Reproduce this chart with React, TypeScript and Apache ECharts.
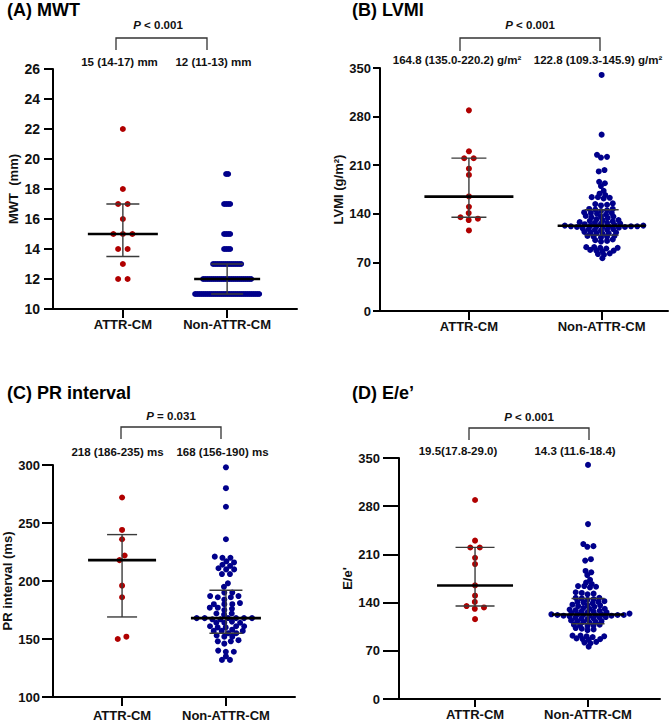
import React, { useEffect, useRef } from "react";
import * as echarts from "echarts";

const FONT = "'Liberation Sans', Arial, sans-serif";

const categories = ["ATTR-CM", "Non-ATTR-CM"];

// (A) MWT, mm
const mwtAttr = [22, 18, 17, 17, 16, 15, 15, 15, 14, 14, 13, 12, 12];
const mwtNon = [
  19, 19,
  17, 17, 17, 17,
  15, 15, 15, 15,
  14, 14, 14, 14,
  13, 13, 13, 13, 13, 13, 13, 13, 13, 13, 13, 13, 13, 13, 13,
  12, 12, 12, 12, 12, 12, 12, 12, 12, 12, 12, 12, 12, 12, 12, 12, 12, 12, 12, 12, 12, 12, 12, 12, 12,
  11, 11, 11, 11, 11, 11, 11, 11, 11, 11, 11, 11, 11, 11, 11, 11, 11, 11, 11, 11, 11, 11, 11, 11, 11, 11, 11, 11, 11, 11, 11, 11, 11,
];

// (B) LVMI, g/m2
const lvmiAttr = [289, 230, 220, 220, 205, 196, 165, 150, 141, 135, 133, 131, 116];
const lvmiNon = [
  340, 254, 225, 222, 221, 203, 201, 186, 184, 180, 173, 169, 167,
  164, 163, 162, 164, 155, 153, 154, 152, 147, 146, 145, 147, 144,
  141, 140, 142, 139, 141, 136, 135, 134, 136, 137, 131, 130, 129, 131, 132,
  127, 126, 127, 125, 126, 128,
  123, 122, 122, 121, 123, 122, 121, 123, 122, 120, 124, 122, 121,
  118, 117, 116, 118, 117, 119, 113, 112, 114, 112, 113, 111,
  108, 107, 106, 108, 107, 102, 101, 103, 100,
  92, 91, 90, 91, 92, 88, 87, 86, 87, 83, 82, 81, 76,
];

// (C) PR interval, ms
const prAttr = [272, 244, 236, 222, 218, 196, 186, 152, 150];
const prNon = [
  298, 280, 264, 236, 220, 220, 221, 217, 216, 213, 214, 210, 210, 211, 206, 206,
  198, 195, 190, 190, 187, 186, 187, 186, 184, 180, 180, 181, 180, 177, 176, 177, 175,
  172, 171, 172, 168, 168, 167, 168, 168, 167, 168, 168,
  164, 164, 165, 164, 161, 160, 161, 160, 161, 157, 157, 158, 157, 155, 155,
  152, 152, 153, 148, 149, 148, 146, 139, 139, 140, 135, 132, 132,
];

// (D) E/e'
const eeAttr = [289, 230, 220, 220, 205, 196, 165, 150, 141, 135, 133, 131, 116];
const eeNon = [
  340, 254, 225, 222, 221, 203, 201, 186, 184, 180, 173, 169, 167,
  164, 163, 162, 164, 155, 153, 154, 152, 147, 146, 145, 147, 144,
  141, 140, 142, 139, 141, 136, 135, 134, 136, 137, 131, 130, 129, 131, 132,
  127, 126, 127, 125, 126, 128,
  123, 122, 122, 121, 123, 122, 121, 123, 122, 120, 124, 122, 121,
  118, 117, 116, 118, 117, 119, 113, 112, 114, 112, 113, 111,
  108, 107, 106, 108, 107, 102, 101, 103, 100,
  92, 91, 90, 91, 92, 88, 87, 86, 87, 83, 82, 81, 76,
];

// median, lower bar, upper bar (as drawn) per group
const mwtBars = [[15, 13.5, 17], [12, 11, 13]];
const lvmiBars = [[164.8, 135.0, 220.2], [122.8, 109.3, 145.9]];
const prBars = [[218, 169, 240], [168, 155, 192]];
const eeBars = [[164.8, 135.0, 220.2], [122.8, 109.3, 145.9]];

const titles = ["(A) MWT", "(B) LVMI", "(C) PR interval", "(D) E/e\u2019"];
const yNames = ["MWT  (mm)", "LVMI (g/m\u00b2)", "PR interval (ms)", "E/e'"];
const pTexts = ["< 0.001", "< 0.001", "= 0.031", "< 0.001"];
const summaryLabels = [
  ["15 (14-17) mm", "12 (11-13) mm"],
  ["164.8 (135.0-220.2) g/m\u00b2", "122.8 (109.3-145.9) g/m\u00b2"],
  ["218 (186-235) ms", "168 (156-190) ms"],
  ["19.5(17.8-29.0)", "14.3 (11.6-18.4)"],
];
const yRanges = [
  { min: 10, max: 26, interval: 2 },
  { min: 0, max: 350, interval: 70 },
  { min: 100, max: 300, interval: 50 },
  { min: 0, max: 350, interval: 70 },
];

const groupsData = [
  [mwtAttr, mwtNon],
  [lvmiAttr, lvmiNon],
  [prAttr, prNon],
  [eeAttr, eeNon],
];
const barsData = [mwtBars, lvmiBars, prBars, eeBars];

// layout (pixels)
const panels = [
  {
    grid: { left: 53, top: 69, width: 244, height: 240 }, xMin: 0.33, xMax: 2.67,
    title: [7, 10], nameGap: 33, tickLen: 9, labelMargin: 13, labelSize: 14, xTick: 9, xMargin: 9,
    bracket: [116, 207, 38, 50], p: [158, 25], labels: [[119.5, 62], [213.5, 62]],
    sx: [9.5, 2], sy: [5.5, 5.5], medHalf: [35, 33], capHalf: [16.5, 16],
  },
  {
    grid: { left: 380, top: 68, width: 288, height: 243 }, xMin: 0.33, xMax: 2.5,
    title: [352, 10], nameGap: 28, tickLen: 7, labelMargin: 9, labelSize: 13, xTick: 9, xMargin: 9,
    bracket: [460, 600, 38, 51], p: [530, 25], labels: [[457, 60], [598, 60]],
    sx: [9.5, 6.2], sy: [5.5, 3.6], medHalf: [44.5, 44], capHalf: [17.5, 17],
  },
  {
    grid: { left: 53, top: 465, width: 242, height: 232 }, xMin: 0.335, xMax: 2.665,
    title: [7, 393], nameGap: 38, tickLen: 11, labelMargin: 13, labelSize: 13, xTick: 9, xMargin: 12,
    bracket: [121, 221, 427, 439], p: [171, 416], labels: [[117.5, 452], [222.5, 452]],
    sx: [9.5, 8], sy: [5.5, 4], medHalf: [34, 35], capHalf: [15, 16.5],
  },
  {
    grid: { left: 399, top: 458, width: 261, height: 241 }, xMin: 0.327, xMax: 2.637,
    title: [352, 393], nameGap: 43, tickLen: 16, labelMargin: 19, labelSize: 13, xTick: 8, xMargin: 9,
    bracket: [469, 589, 428, 440], p: [529, 417], labels: [[458, 451], [575, 451]],
    sx: [9.5, 6.2], sy: [5.5, 3.6], medHalf: [38, 36], capHalf: [19.5, 16.5],
  },
];

const dotColors = ["#b00000", "#00008b"];

// Beeswarm layout: pixel offsets for each value
function swarm(values: number[], k: number, sx: number, sy: number): number[] {
  const order = values.map((_, i) => i).sort((a, b) => values[a] - values[b] || a - b);
  const placed: { x: number; y: number; i: number }[] = [];
  const off: number[] = values.map(() => 0);
  for (const i of order) {
    const y = values[i] * k;
    const near = placed.filter((p) => Math.abs(p.y - y) < sy - 1e-9);
    const cands = [0];
    near.forEach((p) => {
      const d = (p.y - y) / sy;
      const w = sx * Math.sqrt(Math.max(0, 1 - d * d));
      cands.push(p.x + w, p.x - w);
    });
    cands.sort((a, b) => Math.abs(a) - Math.abs(b) || b - a);
    let best = cands[cands.length - 1];
    for (const c of cands) {
      if (near.every((p) => ((p.x - c) / sx) ** 2 + ((p.y - y) / sy) ** 2 >= 0.999)) {
        best = c;
        break;
      }
    }
    placed.push({ x: best, y, i });
    off[i] = best;
  }
  // center each connected cluster
  let cluster: number[] = [];
  const flush = () => {
    if (cluster.length > 1) {
      const mean = cluster.reduce((s, j) => s + off[j], 0) / cluster.length;
      cluster.forEach((j) => (off[j] -= mean));
    }
    cluster = [];
  };
  for (let n = 0; n < order.length; n++) {
    const i = order[n];
    if (n > 0 && (values[i] - values[order[n - 1]]) * k >= sy) flush();
    cluster.push(i);
  }
  flush();
  return off;
}

export default function App() {
  const ref = useRef<HTMLDivElement>(null);
  useEffect(() => {
    if (!ref.current) return;
    const chart = echarts.init(ref.current, undefined, { renderer: "svg" });

    const grids: any[] = [];
    const xAxes: any[] = [];
    const yAxes: any[] = [];
    const series: any[] = [];
    const graphics: any[] = [];

    panels.forEach((p, i) => {
      const yr = yRanges[i];
      grids.push({ ...p.grid, containLabel: false });
      const pxPerX = p.grid.width / (p.xMax - p.xMin);
      const k = p.grid.height / (yr.max - yr.min);
      xAxes.push({
        type: "value", gridIndex: i, min: p.xMin, max: p.xMax,
        splitLine: { show: false },
        axisLine: { show: true, onZero: false, lineStyle: { color: "#000", width: 2 } },
        axisTick: { show: true, customValues: [1, 2], length: p.xTick, lineStyle: { color: "#000", width: 2 } },
        axisLabel: {
          show: true, customValues: [1, 2], margin: p.xMargin,
          formatter: (v: number) => categories[Math.round(v) - 1] ?? "",
          fontWeight: "bold", fontSize: 13, color: "#111", fontFamily: FONT,
        },
      });
      yAxes.push({
        type: "value", gridIndex: i, min: yr.min, max: yr.max, interval: yr.interval,
        splitLine: { show: false },
        axisLine: { show: true, onZero: false, lineStyle: { color: "#000", width: 2 } },
        axisTick: { show: true, length: p.tickLen, lineStyle: { color: "#000", width: 2 } },
        axisLabel: { margin: p.labelMargin, fontWeight: "bold", fontSize: p.labelSize, color: "#111", fontFamily: FONT },
        name: yNames[i], nameLocation: "middle", nameGap: p.nameGap,
        nameTextStyle: { fontWeight: "bold", fontSize: 13, color: "#111", fontFamily: FONT },
      });

      groupsData[i].forEach((vals, g) => {
        const off = swarm(vals, k, p.sx[g], p.sy[g]);
        series.push({
          type: "scatter", xAxisIndex: i, yAxisIndex: i, silent: true, z: 2,
          symbolSize: 6, itemStyle: { color: dotColors[g], opacity: 1 },
          data: vals.map((v, j) => [g + 1 + off[j] / pxPerX, v]),
        });
      });

      const med = p.medHalf;
      const cap = p.capHalf;
      series.push({
        type: "custom", xAxisIndex: i, yAxisIndex: i, silent: true, z: 5,
        data: barsData[i].map((b, g) => [g + 1, b[0], b[1], b[2]]),
        renderItem: (params: any, api: any) => {
          const x = api.value(0);
          const pm = api.coord([x, api.value(1)]);
          const pl = api.coord([x, api.value(2)]);
          const ph = api.coord([x, api.value(3)]);
          const mh = med[params.dataIndex];
          const ch = cap[params.dataIndex];
          const thin = { stroke: "#3a3a3a", lineWidth: 1.4 };
          return {
            type: "group",
            children: [
              { type: "line", shape: { x1: pl[0], y1: pl[1], x2: ph[0], y2: ph[1] }, style: thin },
              { type: "line", shape: { x1: pl[0] - ch, y1: pl[1], x2: pl[0] + ch, y2: pl[1] }, style: thin },
              { type: "line", shape: { x1: ph[0] - ch, y1: ph[1], x2: ph[0] + ch, y2: ph[1] }, style: thin },
              { type: "line", shape: { x1: pm[0] - mh, y1: pm[1], x2: pm[0] + mh, y2: pm[1] }, style: { stroke: "#000", lineWidth: 2.6 } },
            ],
          };
        },
      });

      graphics.push({
        type: "text", left: undefined, x: p.title[0], y: p.title[1],
        style: { text: titles[i], fontSize: 18, fontWeight: "bold", fill: "#000", fontFamily: FONT, textAlign: "left", textVerticalAlign: "middle" },
      });
      const [bx1, bx2, by, by2] = p.bracket;
      graphics.push({
        type: "polyline",
        shape: { points: [[bx1, by2], [bx1, by], [bx2, by], [bx2, by2]] },
        style: { stroke: "#333", lineWidth: 1.3, fill: null },
      });
      graphics.push({
        type: "text", x: p.p[0], y: p.p[1],
        style: {
          text: "{i|P} " + pTexts[i],
          rich: { i: { fontStyle: "italic", fontWeight: "bold", fontSize: 11.5, fontFamily: FONT, fill: "#111" } },
          fontSize: 11.5, fontWeight: "bold", fill: "#111", fontFamily: FONT, textAlign: "center", textVerticalAlign: "middle",
        },
      });
      p.labels.forEach((pos, g) => {
        graphics.push({
          type: "text", x: pos[0], y: pos[1],
          style: { text: summaryLabels[i][g], fontSize: 11.5, fontWeight: "bold", fill: "#111", fontFamily: FONT, textAlign: "center", textVerticalAlign: "middle" },
        });
      });
    });

    chart.setOption({
      animation: false,
      backgroundColor: "#fff",
      grid: grids,
      xAxis: xAxes,
      yAxis: yAxes,
      series,
      graphic: { elements: graphics },
    });
    return () => chart.dispose();
  }, []);

  return (
    <div
      ref={ref}
      style={{ position: "fixed", left: 0, top: 0, width: 669, height: 723, background: "#fff" }}
    />
  );
}
